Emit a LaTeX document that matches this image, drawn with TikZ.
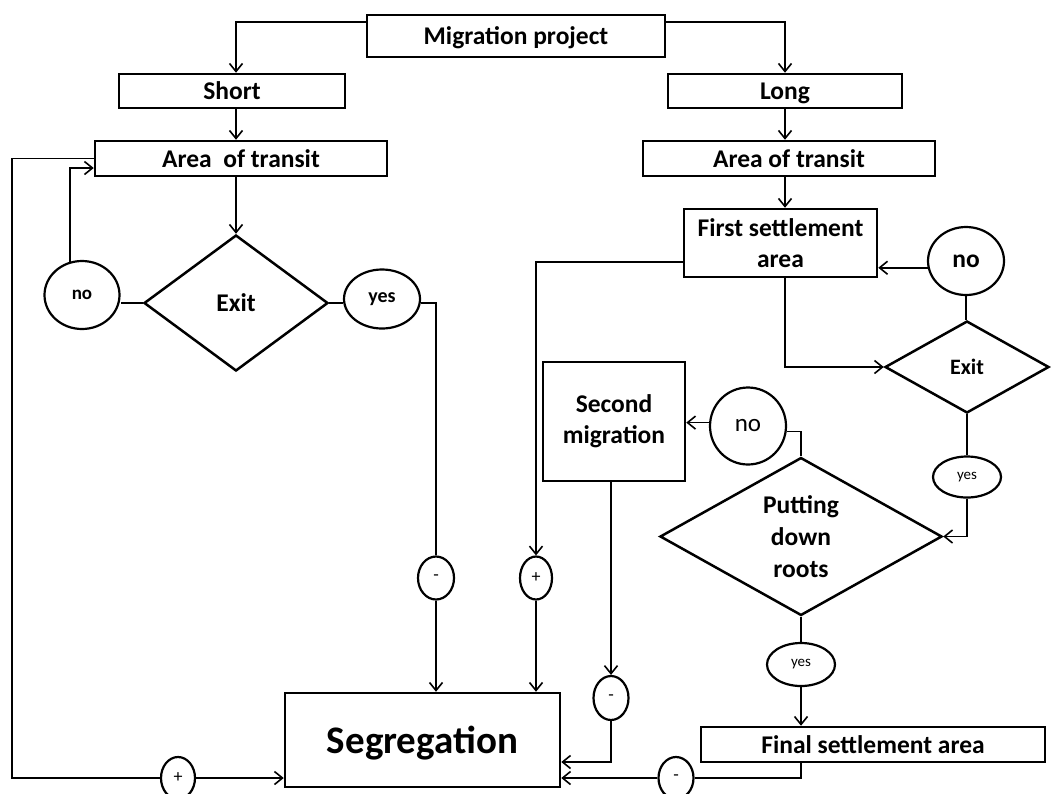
\documentclass[tikz,border=0pt]{standalone}
\usepackage{fontspec}
\setmainfont{Carlito}
\usetikzlibrary{shapes.geometric,arrows.meta,calc}
\begin{document}
\begin{tikzpicture}[x=1pt,y=-1pt,
  box/.style={draw,line width=2.5pt,rectangle,inner sep=0pt,align=center,
    font=\fontsize{25.5}{31}\selectfont\bfseries},
  oneline/.style={text depth=0pt},
  dia/.style={draw,line width=2.5pt,diamond,inner sep=0pt,align=center,
    font=\fontsize{25.5}{32}\selectfont\bfseries},
  oval/.style={draw,line width=2.2pt,ellipse,inner sep=0pt},
  sign/.style={oval,font=\fontsize{18}{20}\selectfont},
  small/.style={oval,font=\fontsize{15}{17}\selectfont},
  conn/.style={line width=1.6pt},
  arr/.style={conn,-{Straight Barb[length=8pt,width=13pt,line width=1.6pt]}}
]
\path[use as bounding box] (0,0) rectangle (1051,793);

% nodes
\node[box,oneline,minimum width=298pt,minimum height=42pt] (mig) at (516,36) {Migration project};
\node[box,oneline,minimum width=226pt,minimum height=34pt] (short) at (232,91) {Short};
\node[box,oneline,minimum width=234pt,minimum height=34pt] (long) at (785,91) {Long};
\node[box,oneline,minimum width=292pt,minimum height=35pt] (atl) at (241,158.5) {Area\ \ of transit};
\node[box,oneline,minimum width=292pt,minimum height=35pt] (atr) at (789,158.5) {Area of transit};
\node[dia,oneline,minimum width=184pt,minimum height=136pt] (exl) at (236,303) {Exit};
\node[oval,minimum width=75pt,minimum height=68pt,font=\fontsize{19}{21}\selectfont\bfseries] (nol) at (82,295) {no};
\node[oval,minimum width=76pt,minimum height=59pt,font=\fontsize{20}{22}\selectfont\bfseries] (yesl) at (382,299) {yes};
\node[sign,minimum width=36pt,minimum height=43pt] (minus1) at (436,578) {-};
\node[box,oneline,minimum width=275pt,minimum height=94pt,font=\fontsize{39}{44}\selectfont\bfseries] (seg) at (422.5,740) {Segregation};
\node[sign,minimum width=34pt,minimum height=42pt] (plusL) at (178,778) {+};
\coordinate (cl) at (12,778);
\node[box,minimum width=193pt,minimum height=68pt] (fsa) at (780.5,243) {First settlement\\area};
\node[oval,minimum width=76pt,minimum height=68pt,font=\fontsize{25.5}{28}\selectfont\bfseries] (nor) at (966,261) {no};
\node[dia,oneline,minimum width=164pt,minimum height=92pt,font=\fontsize{22}{24}\selectfont\bfseries] (exr) at (967,367) {Exit};
\node[small,minimum width=68pt,minimum height=41pt] (yesr) at (967,477) {yes};
\node[dia,minimum width=282pt,minimum height=143pt] (pdr) at (801,536.5) {Putting\\down\\roots};
\node[oval,minimum width=76pt,minimum height=77pt,font=\fontsize{25}{28}\selectfont] (no2) at (748,426) {no};
\node[box,minimum width=142pt,minimum height=119pt] (sm) at (614,421.5) {Second\\migration};
\node[sign,minimum width=35pt,minimum height=44pt] (minus2) at (611,698) {-};
\node[sign,minimum width=32pt,minimum height=43pt] (plusM) at (536,578) {+};
\node[small,minimum width=68pt,minimum height=43pt] (yesb) at (801,664.5) {yes};
\node[box,oneline,minimum width=344pt,minimum height=35pt] (fin) at (873,744.5) {Final settlement area};
\node[sign,minimum width=35pt,minimum height=42pt] (minus3) at (676,778) {-};

% connectors
\draw[arr] ($(mig.north west)+(0,8)$) -| ([xshift=4pt]short.north);
\draw[arr] ($(mig.north east)+(0,8)$) -| (long.north);
\draw[arr] ([xshift=4pt]short.south) -- ([xshift=4pt]short.south |- atl.north);
\draw[arr] (long.south) -- (long.south |- atr.north);
\draw[arr] (exl.north |- atl.south) -- (exl.north);
\draw[conn] (exl.west) -- (exl.west -| nol.east);
\draw[arr] (nol.110) |- ([yshift=-9.5pt]atl.west);
\draw[conn] (atl.west) -| (cl) -- (plusL.west);
\draw[arr] (plusL.east) -- (plusL.east -| seg.west);
\draw[conn] (exl.east) -- (exl.east -| yesl.west);
\draw[conn] ([yshift=-4pt]yesl.east) -| (minus1.north);
\draw[arr] (minus1.south) -- (minus1.south |- seg.north);
\draw[arr] ([yshift=-19pt]fsa.west) -| (plusM.north);
\draw[arr] (plusM.south) -- (plusM.south |- seg.north);
\draw[arr] (long.south |- atr.south) -- (long.south |- fsa.north);
\draw[arr] (nor.190) -- (nor.190 -| fsa.east);
\draw[conn] (nor.south) -- (nor.south |- exr.north);
\draw[arr] ([xshift=4.5pt]fsa.south) |- (exr.west);
\draw[conn] (exr.south) -- (yesr.north);
\draw[arr] (yesr.south) |- (pdr.east);
\draw[conn] (pdr.north) |- (no2.-8);
\draw[arr] (no2.175) -- (no2.175 -| sm.east);
\draw[arr] (minus2.north |- sm.south) -- (minus2.north);
\draw[arr] (minus2.south) |- ([yshift=-22pt]seg.east);
\draw[conn] (pdr.south) -- (yesb.north);
\draw[arr] (yesb.south) -- (yesb.south |- fin.north);
\draw[conn] (yesb.south |- fin.south) |- (minus3.east);
\draw[arr] (minus3.west) -- (minus3.west -| seg.east);
\end{tikzpicture}
\end{document}
